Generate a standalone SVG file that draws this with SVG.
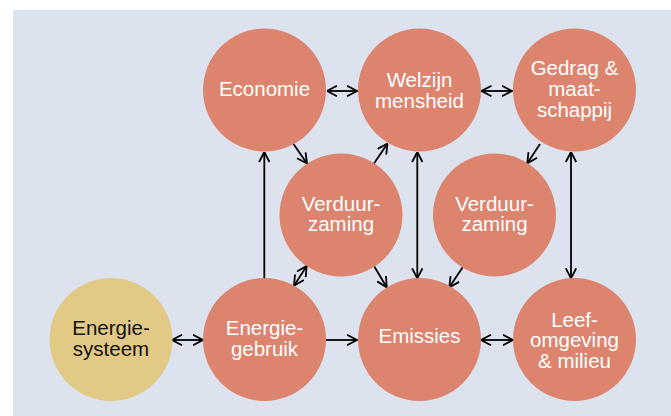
<svg xmlns="http://www.w3.org/2000/svg" width="671" height="416" viewBox="0 0 671 416">
<style>
.bg{fill:#dde3ee}
.n{fill:#dc846e}
.y{fill:#e3c986}
.t{font-family:"Liberation Sans",Arial,sans-serif;font-size:20.5px;fill:#ffffff;text-anchor:middle}
.d{fill:#111111}
.c line{stroke:#000;stroke-width:1.8;fill:none}
</style>
<defs>
<marker id="ah" viewBox="0 0 11 12" refX="10.5" refY="6" markerWidth="11" markerHeight="12" markerUnits="userSpaceOnUse" orient="auto-start-reverse">
<path d="M0.5,0.8 L10.5,6 L0.5,11.2" fill="none" stroke="#000" stroke-width="1.8"/>
</marker>
</defs>
<rect class="bg" x="13" y="10" width="658" height="406"/>
<g class="c" id="connectors">
<line x1="327" y1="91" x2="357" y2="91" marker-start="url(#ah)" marker-end="url(#ah)"/>
<line x1="481.5" y1="91" x2="512" y2="91" marker-start="url(#ah)" marker-end="url(#ah)"/>
<line x1="172" y1="340" x2="203" y2="340" marker-start="url(#ah)" marker-end="url(#ah)"/>
<line x1="326" y1="340" x2="357" y2="340" marker-end="url(#ah)"/>
<line x1="481" y1="340" x2="513" y2="340" marker-start="url(#ah)" marker-end="url(#ah)"/>
<line x1="264.3" y1="278" x2="264.3" y2="152" marker-end="url(#ah)"/>
<line x1="293.5" y1="144" x2="307" y2="163.5" marker-end="url(#ah)"/>
<line x1="374" y1="163.5" x2="387.5" y2="143.5" marker-end="url(#ah)"/>
<line x1="417.3" y1="152" x2="417.3" y2="278.3" marker-start="url(#ah)" marker-end="url(#ah)"/>
<line x1="540" y1="144" x2="527.3" y2="163.3" marker-end="url(#ah)"/>
<line x1="571" y1="152" x2="571" y2="278.3" marker-start="url(#ah)" marker-end="url(#ah)"/>
<line x1="306.7" y1="266" x2="294" y2="285.7" marker-start="url(#ah)" marker-end="url(#ah)"/>
<line x1="374" y1="266" x2="386.7" y2="287.3" marker-end="url(#ah)"/>
<line x1="462.7" y1="267.3" x2="449.3" y2="287.3" marker-end="url(#ah)"/>
</g>
<g id="economie"><circle class="n" cx="264.5" cy="90" r="61.5"/><text class="t" x="264.5" y="96">Economie</text></g>
<g id="welzijn"><circle class="n" cx="419.5" cy="90" r="61.5"/><text class="t" x="419.5" y="87">Welzijn</text><text class="t" x="419.5" y="107.5">mensheid</text></g>
<g id="gedrag"><circle class="n" cx="574.5" cy="90" r="61.5"/><text class="t" x="574.5" y="75">Gedrag &amp;</text><text class="t" x="574.5" y="96">maat-</text><text class="t" x="574.5" y="117">schappij</text></g>
<g id="verduurzaming1"><circle class="n" cx="341" cy="215" r="61.5"/><text class="t" x="341" y="210.5">Verduur-</text><text class="t" x="341" y="231">zaming</text></g>
<g id="verduurzaming2"><circle class="n" cx="494.5" cy="215" r="61.5"/><text class="t" x="494.5" y="210.5">Verduur-</text><text class="t" x="494.5" y="231">zaming</text></g>
<g id="energiesysteem"><circle class="y" cx="111" cy="339.5" r="61.5"/><text class="t d" x="111" y="335">Energie-</text><text class="t d" x="111" y="355.5">systeem</text></g>
<g id="energiegebruik"><circle class="n" cx="264.5" cy="339.5" r="61.5"/><text class="t" x="264.5" y="335">Energie-</text><text class="t" x="264.5" y="355.5">gebruik</text></g>
<g id="emissies"><circle class="n" cx="419.5" cy="339.5" r="61.5"/><text class="t" x="419.5" y="343">Emissies</text></g>
<g id="leefomgeving"><circle class="n" cx="574.5" cy="339.5" r="61.5"/><text class="t" x="574.5" y="326.5">Leef-</text><text class="t" x="574.5" y="347">omgeving</text><text class="t" x="574.5" y="367.5">&amp; milieu</text></g>
</svg>
